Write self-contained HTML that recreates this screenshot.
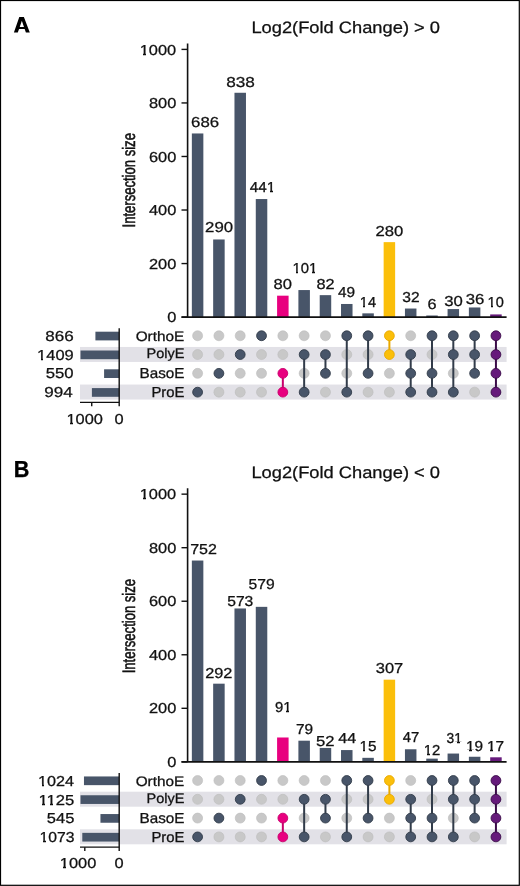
<!DOCTYPE html>
<html><head><meta charset="utf-8"><style>
html,body{margin:0;padding:0;background:#fff;}
body{width:520px;height:886px;overflow:hidden;}
svg{display:block;font-family:"Liberation Sans",sans-serif;will-change:transform;text-rendering:geometricPrecision;}
</style></head><body>
<svg width="520" height="886" viewBox="0 0 520 886">
<rect x="0" y="0" width="520" height="886" fill="#fff"/>
<rect x="80" y="346.95" width="426.6" height="15" fill="#e2e1e7"/>
<rect x="80" y="384.55" width="426.6" height="15" fill="#e2e1e7"/>
<path fill-rule="evenodd" fill="#000" d="M13.9,32.6 L19.3,16.9 L23.9,16.9 L29.8,32.6 L25.9,32.6 L24.66,29.1 L19.04,29.1 L17.8,32.6 Z M21.85,20.8 L19.72,26.9 L23.98,26.9 Z"/>
<text transform="translate(251.39,32.85) scale(1.1052,1)" font-size="16.552" fill="#111111" stroke="#111111" stroke-width="0.271">Log2(Fold Change) &gt; 0</text>
<line x1="187.6" y1="43.50" x2="187.6" y2="317.10" stroke="#111" stroke-width="1.6"/>
<line x1="181.5" y1="317.10" x2="187.6" y2="317.10" stroke="#111" stroke-width="1.4"/>
<text transform="translate(167.15,322.20) scale(1.1400,1)" font-size="14.400" fill="#111111" stroke="#111111" stroke-width="0.263">0</text>
<line x1="181.5" y1="263.56" x2="187.6" y2="263.56" stroke="#111" stroke-width="1.4"/>
<text transform="translate(148.92,268.66) scale(1.1400,1)" font-size="14.400" fill="#111111" stroke="#111111" stroke-width="0.263">200</text>
<line x1="181.5" y1="210.02" x2="187.6" y2="210.02" stroke="#111" stroke-width="1.4"/>
<text transform="translate(148.92,215.12) scale(1.1400,1)" font-size="14.400" fill="#111111" stroke="#111111" stroke-width="0.263">400</text>
<line x1="181.5" y1="156.48" x2="187.6" y2="156.48" stroke="#111" stroke-width="1.4"/>
<text transform="translate(148.92,161.58) scale(1.1400,1)" font-size="14.400" fill="#111111" stroke="#111111" stroke-width="0.263">600</text>
<line x1="181.5" y1="102.94" x2="187.6" y2="102.94" stroke="#111" stroke-width="1.4"/>
<text transform="translate(148.92,108.04) scale(1.1400,1)" font-size="14.400" fill="#111111" stroke="#111111" stroke-width="0.263">800</text>
<line x1="181.5" y1="49.40" x2="187.6" y2="49.40" stroke="#111" stroke-width="1.4"/>
<text transform="translate(139.73,54.50) scale(1.1400,1)" font-size="14.400" fill="#111111" stroke="#111111" stroke-width="0.263">1000</text><rect x="140" y="53" width="3" height="3" fill="#fff"/><rect x="146" y="53" width="3" height="3" fill="#fff"/>
<g transform="rotate(-90)"><text transform="translate(-227.48,134.70) scale(0.7256,1)" font-size="18.0" fill="#111111" stroke="#111111" stroke-width="0.55">Intersection size</text></g>
<rect x="191.85" y="133.46" width="11.5" height="183.64" fill="#485569"/>
<rect x="213.16" y="239.47" width="11.5" height="77.63" fill="#485569"/>
<rect x="234.47" y="92.77" width="11.5" height="224.33" fill="#485569"/>
<rect x="255.78" y="199.04" width="11.5" height="118.06" fill="#485569"/>
<rect x="277.09" y="295.68" width="11.5" height="21.42" fill="#e8007f"/>
<rect x="298.40" y="290.06" width="11.5" height="27.04" fill="#485569"/>
<rect x="319.71" y="295.15" width="11.5" height="21.95" fill="#485569"/>
<rect x="341.02" y="303.98" width="11.5" height="13.12" fill="#485569"/>
<rect x="362.33" y="313.35" width="11.5" height="3.75" fill="#485569"/>
<rect x="383.64" y="242.14" width="11.5" height="74.96" fill="#fbbf0a"/>
<rect x="404.95" y="308.53" width="11.5" height="8.57" fill="#485569"/>
<rect x="426.26" y="315.49" width="11.5" height="1.61" fill="#485569"/>
<rect x="447.57" y="309.07" width="11.5" height="8.03" fill="#485569"/>
<rect x="468.88" y="307.46" width="11.5" height="9.64" fill="#485569"/>
<rect x="490.19" y="314.42" width="11.5" height="2.68" fill="#661a7b"/>
<line x1="181.5" y1="317.10" x2="506.6" y2="317.10" stroke="#111" stroke-width="1.8"/>
<text transform="translate(191.11,126.75) scale(1.1677,1)" font-size="14.400" fill="#111111" stroke="#111111" stroke-width="0.257">686</text>
<text transform="translate(205.11,232.15) scale(1.1684,1)" font-size="14.400" fill="#111111" stroke="#111111" stroke-width="0.257">290</text>
<text transform="translate(226.18,86.65) scale(1.1955,1)" font-size="14.400" fill="#111111" stroke="#111111" stroke-width="0.251">838</text>
<text transform="translate(249.77,192.15) scale(1.0613,1)" font-size="14.400" fill="#111111" stroke="#111111" stroke-width="0.283">441</text><rect x="267" y="190" width="3" height="3" fill="#fff"/><rect x="273" y="190" width="2" height="3" fill="#fff"/>
<text transform="translate(273.60,289.45) scale(1.1518,1)" font-size="14.400" fill="#111111" stroke="#111111" stroke-width="0.260">80</text>
<text transform="translate(292.53,273.15) scale(1.0326,1)" font-size="14.400" fill="#111111" stroke="#111111" stroke-width="0.291">101</text><rect x="293" y="271" width="3" height="3" fill="#fff"/><rect x="298" y="271" width="3" height="3" fill="#fff"/><rect x="309" y="271" width="3" height="3" fill="#fff"/><rect x="315" y="271" width="3" height="3" fill="#fff"/>
<text transform="translate(316.51,288.55) scale(1.1357,1)" font-size="14.400" fill="#111111" stroke="#111111" stroke-width="0.264">82</text>
<text transform="translate(338.07,297.15) scale(1.0684,1)" font-size="14.400" fill="#111111" stroke="#111111" stroke-width="0.281">49</text>
<text transform="translate(359.86,306.85) scale(1.0088,1)" font-size="14.400" fill="#111111" stroke="#111111" stroke-width="0.297">14</text><rect x="360" y="305" width="3" height="3" fill="#fff"/><rect x="365" y="305" width="3" height="3" fill="#fff"/>
<text transform="translate(375.52,235.75) scale(1.1596,1)" font-size="14.400" fill="#111111" stroke="#111111" stroke-width="0.259">280</text>
<text transform="translate(402.23,302.45) scale(1.0825,1)" font-size="14.400" fill="#111111" stroke="#111111" stroke-width="0.277">32</text>
<text transform="translate(427.53,308.65) scale(1.1322,1)" font-size="14.400" fill="#111111" stroke="#111111" stroke-width="0.265">6</text>
<text transform="translate(444.18,306.15) scale(1.1597,1)" font-size="14.400" fill="#111111" stroke="#111111" stroke-width="0.259">30</text>
<text transform="translate(465.68,304.35) scale(1.1653,1)" font-size="14.400" fill="#111111" stroke="#111111" stroke-width="0.257">36</text>
<text transform="translate(487.56,307.05) scale(1.0120,1)" font-size="14.400" fill="#111111" stroke="#111111" stroke-width="0.296">10</text><rect x="488" y="305" width="3" height="3" fill="#fff"/><rect x="493" y="305" width="3" height="3" fill="#fff"/>
<circle cx="197.60" cy="335.75" r="5.0" fill="#c8c8c8" stroke="#bcbcbc" stroke-width="0.6"/>
<circle cx="197.60" cy="354.55" r="5.0" fill="#c8c8c8" stroke="#bcbcbc" stroke-width="0.6"/>
<circle cx="197.60" cy="373.35" r="5.0" fill="#c8c8c8" stroke="#bcbcbc" stroke-width="0.6"/>
<circle cx="197.60" cy="392.15" r="4.9" fill="#485569" stroke="#323c4a" stroke-width="0.9"/>
<circle cx="218.91" cy="335.75" r="5.0" fill="#c8c8c8" stroke="#bcbcbc" stroke-width="0.6"/>
<circle cx="218.91" cy="354.55" r="5.0" fill="#c8c8c8" stroke="#bcbcbc" stroke-width="0.6"/>
<circle cx="218.91" cy="392.15" r="5.0" fill="#c8c8c8" stroke="#bcbcbc" stroke-width="0.6"/>
<circle cx="218.91" cy="373.35" r="4.9" fill="#485569" stroke="#323c4a" stroke-width="0.9"/>
<circle cx="240.22" cy="335.75" r="5.0" fill="#c8c8c8" stroke="#bcbcbc" stroke-width="0.6"/>
<circle cx="240.22" cy="373.35" r="5.0" fill="#c8c8c8" stroke="#bcbcbc" stroke-width="0.6"/>
<circle cx="240.22" cy="392.15" r="5.0" fill="#c8c8c8" stroke="#bcbcbc" stroke-width="0.6"/>
<circle cx="240.22" cy="354.55" r="4.9" fill="#485569" stroke="#323c4a" stroke-width="0.9"/>
<circle cx="261.53" cy="354.55" r="5.0" fill="#c8c8c8" stroke="#bcbcbc" stroke-width="0.6"/>
<circle cx="261.53" cy="373.35" r="5.0" fill="#c8c8c8" stroke="#bcbcbc" stroke-width="0.6"/>
<circle cx="261.53" cy="392.15" r="5.0" fill="#c8c8c8" stroke="#bcbcbc" stroke-width="0.6"/>
<circle cx="261.53" cy="335.75" r="4.9" fill="#485569" stroke="#323c4a" stroke-width="0.9"/>
<circle cx="282.84" cy="335.75" r="5.0" fill="#c8c8c8" stroke="#bcbcbc" stroke-width="0.6"/>
<circle cx="282.84" cy="354.55" r="5.0" fill="#c8c8c8" stroke="#bcbcbc" stroke-width="0.6"/>
<line x1="282.84" y1="373.35" x2="282.84" y2="392.15" stroke="#c8006c" stroke-width="2.0"/>
<circle cx="282.84" cy="373.35" r="4.9" fill="#e8007f" stroke="#c8006c" stroke-width="0.9"/>
<circle cx="282.84" cy="392.15" r="4.9" fill="#e8007f" stroke="#c8006c" stroke-width="0.9"/>
<circle cx="304.15" cy="335.75" r="5.0" fill="#c8c8c8" stroke="#bcbcbc" stroke-width="0.6"/>
<circle cx="304.15" cy="373.35" r="5.0" fill="#c8c8c8" stroke="#bcbcbc" stroke-width="0.6"/>
<line x1="304.15" y1="354.55" x2="304.15" y2="392.15" stroke="#323c4a" stroke-width="2.0"/>
<circle cx="304.15" cy="354.55" r="4.9" fill="#485569" stroke="#323c4a" stroke-width="0.9"/>
<circle cx="304.15" cy="392.15" r="4.9" fill="#485569" stroke="#323c4a" stroke-width="0.9"/>
<circle cx="325.46" cy="335.75" r="5.0" fill="#c8c8c8" stroke="#bcbcbc" stroke-width="0.6"/>
<circle cx="325.46" cy="392.15" r="5.0" fill="#c8c8c8" stroke="#bcbcbc" stroke-width="0.6"/>
<line x1="325.46" y1="354.55" x2="325.46" y2="373.35" stroke="#323c4a" stroke-width="2.0"/>
<circle cx="325.46" cy="354.55" r="4.9" fill="#485569" stroke="#323c4a" stroke-width="0.9"/>
<circle cx="325.46" cy="373.35" r="4.9" fill="#485569" stroke="#323c4a" stroke-width="0.9"/>
<circle cx="346.77" cy="354.55" r="5.0" fill="#c8c8c8" stroke="#bcbcbc" stroke-width="0.6"/>
<circle cx="346.77" cy="373.35" r="5.0" fill="#c8c8c8" stroke="#bcbcbc" stroke-width="0.6"/>
<line x1="346.77" y1="335.75" x2="346.77" y2="392.15" stroke="#323c4a" stroke-width="2.0"/>
<circle cx="346.77" cy="335.75" r="4.9" fill="#485569" stroke="#323c4a" stroke-width="0.9"/>
<circle cx="346.77" cy="392.15" r="4.9" fill="#485569" stroke="#323c4a" stroke-width="0.9"/>
<circle cx="368.08" cy="354.55" r="5.0" fill="#c8c8c8" stroke="#bcbcbc" stroke-width="0.6"/>
<circle cx="368.08" cy="392.15" r="5.0" fill="#c8c8c8" stroke="#bcbcbc" stroke-width="0.6"/>
<line x1="368.08" y1="335.75" x2="368.08" y2="373.35" stroke="#323c4a" stroke-width="2.0"/>
<circle cx="368.08" cy="335.75" r="4.9" fill="#485569" stroke="#323c4a" stroke-width="0.9"/>
<circle cx="368.08" cy="373.35" r="4.9" fill="#485569" stroke="#323c4a" stroke-width="0.9"/>
<circle cx="389.39" cy="373.35" r="5.0" fill="#c8c8c8" stroke="#bcbcbc" stroke-width="0.6"/>
<circle cx="389.39" cy="392.15" r="5.0" fill="#c8c8c8" stroke="#bcbcbc" stroke-width="0.6"/>
<line x1="389.39" y1="335.75" x2="389.39" y2="354.55" stroke="#e8a800" stroke-width="2.0"/>
<circle cx="389.39" cy="335.75" r="4.9" fill="#fbbf0a" stroke="#e8a800" stroke-width="0.9"/>
<circle cx="389.39" cy="354.55" r="4.9" fill="#fbbf0a" stroke="#e8a800" stroke-width="0.9"/>
<circle cx="410.70" cy="335.75" r="5.0" fill="#c8c8c8" stroke="#bcbcbc" stroke-width="0.6"/>
<line x1="410.70" y1="354.55" x2="410.70" y2="392.15" stroke="#323c4a" stroke-width="2.0"/>
<circle cx="410.70" cy="354.55" r="4.9" fill="#485569" stroke="#323c4a" stroke-width="0.9"/>
<circle cx="410.70" cy="373.35" r="4.9" fill="#485569" stroke="#323c4a" stroke-width="0.9"/>
<circle cx="410.70" cy="392.15" r="4.9" fill="#485569" stroke="#323c4a" stroke-width="0.9"/>
<circle cx="432.01" cy="354.55" r="5.0" fill="#c8c8c8" stroke="#bcbcbc" stroke-width="0.6"/>
<line x1="432.01" y1="335.75" x2="432.01" y2="392.15" stroke="#323c4a" stroke-width="2.0"/>
<circle cx="432.01" cy="335.75" r="4.9" fill="#485569" stroke="#323c4a" stroke-width="0.9"/>
<circle cx="432.01" cy="373.35" r="4.9" fill="#485569" stroke="#323c4a" stroke-width="0.9"/>
<circle cx="432.01" cy="392.15" r="4.9" fill="#485569" stroke="#323c4a" stroke-width="0.9"/>
<circle cx="453.32" cy="373.35" r="5.0" fill="#c8c8c8" stroke="#bcbcbc" stroke-width="0.6"/>
<line x1="453.32" y1="335.75" x2="453.32" y2="392.15" stroke="#323c4a" stroke-width="2.0"/>
<circle cx="453.32" cy="335.75" r="4.9" fill="#485569" stroke="#323c4a" stroke-width="0.9"/>
<circle cx="453.32" cy="354.55" r="4.9" fill="#485569" stroke="#323c4a" stroke-width="0.9"/>
<circle cx="453.32" cy="392.15" r="4.9" fill="#485569" stroke="#323c4a" stroke-width="0.9"/>
<circle cx="474.63" cy="392.15" r="5.0" fill="#c8c8c8" stroke="#bcbcbc" stroke-width="0.6"/>
<line x1="474.63" y1="335.75" x2="474.63" y2="373.35" stroke="#323c4a" stroke-width="2.0"/>
<circle cx="474.63" cy="335.75" r="4.9" fill="#485569" stroke="#323c4a" stroke-width="0.9"/>
<circle cx="474.63" cy="354.55" r="4.9" fill="#485569" stroke="#323c4a" stroke-width="0.9"/>
<circle cx="474.63" cy="373.35" r="4.9" fill="#485569" stroke="#323c4a" stroke-width="0.9"/>
<line x1="495.94" y1="335.75" x2="495.94" y2="392.15" stroke="#3a0c48" stroke-width="2.0"/>
<circle cx="495.94" cy="335.75" r="4.9" fill="#661a7b" stroke="#3a0c48" stroke-width="0.9"/>
<circle cx="495.94" cy="354.55" r="4.9" fill="#661a7b" stroke="#3a0c48" stroke-width="0.9"/>
<circle cx="495.94" cy="373.35" r="4.9" fill="#661a7b" stroke="#3a0c48" stroke-width="0.9"/>
<circle cx="495.94" cy="392.15" r="4.9" fill="#661a7b" stroke="#3a0c48" stroke-width="0.9"/>
<text transform="translate(135.66,341.45) scale(1.1134,1)" font-size="13.793" fill="#111111" stroke="#111111" stroke-width="0.269">OrthoE</text>
<text transform="translate(146.49,358.25) scale(1.0540,1)" font-size="13.793" fill="#111111" stroke="#111111" stroke-width="0.285">PolyE</text>
<text transform="translate(139.53,378.35) scale(1.0527,1)" font-size="14.493" fill="#111111" stroke="#111111" stroke-width="0.285">BasoE</text>
<text transform="translate(151.46,397.25) scale(1.0251,1)" font-size="14.493" fill="#111111" stroke="#111111" stroke-width="0.293">ProE</text>
<rect x="95.41" y="331.70" width="23.79" height="8.7" fill="#485569"/>
<rect x="80.50" y="350.50" width="38.70" height="8.7" fill="#485569"/>
<rect x="104.09" y="369.30" width="15.11" height="8.7" fill="#485569"/>
<rect x="91.90" y="388.10" width="27.30" height="8.7" fill="#485569"/>
<line x1="119.2" y1="328.20" x2="119.2" y2="406.20" stroke="#111" stroke-width="1.4"/>
<line x1="80" y1="402.40" x2="119.2" y2="402.40" stroke="#111" stroke-width="1.4"/>
<line x1="91.73" y1="402.40" x2="91.73" y2="406.20" stroke="#111" stroke-width="1.4"/>
<text transform="translate(45.28,341.45) scale(1.1861,1)" font-size="14.400" fill="#111111" stroke="#111111" stroke-width="0.253">866</text>
<text transform="translate(37.12,359.95) scale(1.1415,1)" font-size="14.400" fill="#111111" stroke="#111111" stroke-width="0.263">1409</text><rect x="37" y="358" width="4" height="3" fill="#fff"/><rect x="43" y="358" width="3" height="3" fill="#fff"/>
<text transform="translate(45.78,378.25) scale(1.1611,1)" font-size="14.400" fill="#111111" stroke="#111111" stroke-width="0.258">550</text>
<text transform="translate(44.28,397.05) scale(1.1836,1)" font-size="14.400" fill="#111111" stroke="#111111" stroke-width="0.253">994</text>
<text transform="translate(66.47,423.50) scale(1.1400,1)" font-size="14.400" fill="#111111" stroke="#111111" stroke-width="0.263">1000</text><rect x="67" y="422" width="3" height="3" fill="#fff"/><rect x="73" y="422" width="3" height="3" fill="#fff"/>
<text transform="translate(114.54,423.50) scale(1.1400,1)" font-size="14.400" fill="#111111" stroke="#111111" stroke-width="0.263">0</text>
<rect x="80" y="791.70" width="426.6" height="15" fill="#e2e1e7"/>
<rect x="80" y="829.30" width="426.6" height="15" fill="#e2e1e7"/>
<text transform="translate(13.74,477.35) scale(0.9332,1)" font-size="23.188" font-weight="bold" fill="#000" stroke="#000" stroke-width="0.321">B</text>
<text transform="translate(251.39,477.60) scale(1.1052,1)" font-size="16.552" fill="#111111" stroke="#111111" stroke-width="0.271">Log2(Fold Change) &lt; 0</text>
<line x1="187.6" y1="488.25" x2="187.6" y2="761.85" stroke="#111" stroke-width="1.6"/>
<line x1="181.5" y1="761.85" x2="187.6" y2="761.85" stroke="#111" stroke-width="1.4"/>
<text transform="translate(167.15,766.95) scale(1.1400,1)" font-size="14.400" fill="#111111" stroke="#111111" stroke-width="0.263">0</text>
<line x1="181.5" y1="708.31" x2="187.6" y2="708.31" stroke="#111" stroke-width="1.4"/>
<text transform="translate(148.92,713.41) scale(1.1400,1)" font-size="14.400" fill="#111111" stroke="#111111" stroke-width="0.263">200</text>
<line x1="181.5" y1="654.77" x2="187.6" y2="654.77" stroke="#111" stroke-width="1.4"/>
<text transform="translate(148.92,659.87) scale(1.1400,1)" font-size="14.400" fill="#111111" stroke="#111111" stroke-width="0.263">400</text>
<line x1="181.5" y1="601.23" x2="187.6" y2="601.23" stroke="#111" stroke-width="1.4"/>
<text transform="translate(148.92,606.33) scale(1.1400,1)" font-size="14.400" fill="#111111" stroke="#111111" stroke-width="0.263">600</text>
<line x1="181.5" y1="547.69" x2="187.6" y2="547.69" stroke="#111" stroke-width="1.4"/>
<text transform="translate(148.92,552.79) scale(1.1400,1)" font-size="14.400" fill="#111111" stroke="#111111" stroke-width="0.263">800</text>
<line x1="181.5" y1="494.15" x2="187.6" y2="494.15" stroke="#111" stroke-width="1.4"/>
<text transform="translate(139.73,499.25) scale(1.1400,1)" font-size="14.400" fill="#111111" stroke="#111111" stroke-width="0.263">1000</text><rect x="140" y="497" width="3" height="3" fill="#fff"/><rect x="146" y="497" width="3" height="3" fill="#fff"/>
<g transform="rotate(-90)"><text transform="translate(-673.33,134.70) scale(0.7256,1)" font-size="18.0" fill="#111111" stroke="#111111" stroke-width="0.55">Intersection size</text></g>
<rect x="191.85" y="560.54" width="11.5" height="201.31" fill="#485569"/>
<rect x="213.16" y="683.68" width="11.5" height="78.17" fill="#485569"/>
<rect x="234.47" y="608.46" width="11.5" height="153.39" fill="#485569"/>
<rect x="255.78" y="606.85" width="11.5" height="155.00" fill="#485569"/>
<rect x="277.09" y="737.49" width="11.5" height="24.36" fill="#e8007f"/>
<rect x="298.40" y="740.70" width="11.5" height="21.15" fill="#485569"/>
<rect x="319.71" y="747.93" width="11.5" height="13.92" fill="#485569"/>
<rect x="341.02" y="750.07" width="11.5" height="11.78" fill="#485569"/>
<rect x="362.33" y="757.83" width="11.5" height="4.02" fill="#485569"/>
<rect x="383.64" y="679.67" width="11.5" height="82.18" fill="#fbbf0a"/>
<rect x="404.95" y="749.27" width="11.5" height="12.58" fill="#485569"/>
<rect x="426.26" y="758.64" width="11.5" height="3.21" fill="#485569"/>
<rect x="447.57" y="753.55" width="11.5" height="8.30" fill="#485569"/>
<rect x="468.88" y="756.76" width="11.5" height="5.09" fill="#485569"/>
<rect x="490.19" y="757.30" width="11.5" height="4.55" fill="#661a7b"/>
<line x1="181.5" y1="761.85" x2="506.6" y2="761.85" stroke="#111" stroke-width="1.8"/>
<text transform="translate(190.15,554.45) scale(1.1138,1)" font-size="14.400" fill="#111111" stroke="#111111" stroke-width="0.269">752</text>
<text transform="translate(205.13,677.75) scale(1.1360,1)" font-size="14.400" fill="#111111" stroke="#111111" stroke-width="0.264">292</text>
<text transform="translate(227.22,605.85) scale(1.0856,1)" font-size="14.400" fill="#111111" stroke="#111111" stroke-width="0.276">573</text>
<text transform="translate(248.52,588.55) scale(1.0856,1)" font-size="14.400" fill="#111111" stroke="#111111" stroke-width="0.276">579</text>
<text transform="translate(274.88,711.75) scale(1.0331,1)" font-size="14.400" fill="#111111" stroke="#111111" stroke-width="0.290">91</text><rect x="283" y="710" width="3" height="3" fill="#fff"/><rect x="289" y="710" width="3" height="3" fill="#fff"/>
<text transform="translate(295.88,734.45) scale(1.0673,1)" font-size="14.400" fill="#111111" stroke="#111111" stroke-width="0.281">79</text>
<text transform="translate(315.98,745.55) scale(1.1574,1)" font-size="14.400" fill="#111111" stroke="#111111" stroke-width="0.259">52</text>
<text transform="translate(338.25,742.55) scale(1.1190,1)" font-size="14.400" fill="#111111" stroke="#111111" stroke-width="0.268">44</text>
<text transform="translate(359.40,751.05) scale(1.0609,1)" font-size="14.400" fill="#111111" stroke="#111111" stroke-width="0.283">15</text><rect x="360" y="749" width="3" height="3" fill="#fff"/><rect x="365" y="749" width="3" height="3" fill="#fff"/>
<text transform="translate(375.74,672.75) scale(1.1442,1)" font-size="14.400" fill="#111111" stroke="#111111" stroke-width="0.262">307</text>
<text transform="translate(402.68,742.25) scale(1.0266,1)" font-size="14.400" fill="#111111" stroke="#111111" stroke-width="0.292">47</text>
<text transform="translate(423.83,754.95) scale(1.0364,1)" font-size="14.400" fill="#111111" stroke="#111111" stroke-width="0.289">12</text><rect x="424" y="753" width="3" height="3" fill="#fff"/><rect x="430" y="753" width="2" height="3" fill="#fff"/>
<text transform="translate(446.60,743.45) scale(0.9600,1)" font-size="14.400" fill="#111111" stroke="#111111" stroke-width="0.313">31</text><rect x="454" y="742" width="3" height="3" fill="#fff"/><rect x="460" y="742" width="2" height="3" fill="#fff"/>
<text transform="translate(465.90,751.35) scale(1.0662,1)" font-size="14.400" fill="#111111" stroke="#111111" stroke-width="0.281">19</text><rect x="466" y="750" width="3" height="2" fill="#fff"/><rect x="472" y="750" width="3" height="2" fill="#fff"/>
<text transform="translate(486.89,750.95) scale(1.0716,1)" font-size="14.400" fill="#111111" stroke="#111111" stroke-width="0.280">17</text><rect x="487" y="749" width="3" height="3" fill="#fff"/><rect x="493" y="749" width="3" height="3" fill="#fff"/>
<circle cx="197.60" cy="780.50" r="5.0" fill="#c8c8c8" stroke="#bcbcbc" stroke-width="0.6"/>
<circle cx="197.60" cy="799.30" r="5.0" fill="#c8c8c8" stroke="#bcbcbc" stroke-width="0.6"/>
<circle cx="197.60" cy="818.10" r="5.0" fill="#c8c8c8" stroke="#bcbcbc" stroke-width="0.6"/>
<circle cx="197.60" cy="836.90" r="4.9" fill="#485569" stroke="#323c4a" stroke-width="0.9"/>
<circle cx="218.91" cy="780.50" r="5.0" fill="#c8c8c8" stroke="#bcbcbc" stroke-width="0.6"/>
<circle cx="218.91" cy="799.30" r="5.0" fill="#c8c8c8" stroke="#bcbcbc" stroke-width="0.6"/>
<circle cx="218.91" cy="836.90" r="5.0" fill="#c8c8c8" stroke="#bcbcbc" stroke-width="0.6"/>
<circle cx="218.91" cy="818.10" r="4.9" fill="#485569" stroke="#323c4a" stroke-width="0.9"/>
<circle cx="240.22" cy="780.50" r="5.0" fill="#c8c8c8" stroke="#bcbcbc" stroke-width="0.6"/>
<circle cx="240.22" cy="818.10" r="5.0" fill="#c8c8c8" stroke="#bcbcbc" stroke-width="0.6"/>
<circle cx="240.22" cy="836.90" r="5.0" fill="#c8c8c8" stroke="#bcbcbc" stroke-width="0.6"/>
<circle cx="240.22" cy="799.30" r="4.9" fill="#485569" stroke="#323c4a" stroke-width="0.9"/>
<circle cx="261.53" cy="799.30" r="5.0" fill="#c8c8c8" stroke="#bcbcbc" stroke-width="0.6"/>
<circle cx="261.53" cy="818.10" r="5.0" fill="#c8c8c8" stroke="#bcbcbc" stroke-width="0.6"/>
<circle cx="261.53" cy="836.90" r="5.0" fill="#c8c8c8" stroke="#bcbcbc" stroke-width="0.6"/>
<circle cx="261.53" cy="780.50" r="4.9" fill="#485569" stroke="#323c4a" stroke-width="0.9"/>
<circle cx="282.84" cy="780.50" r="5.0" fill="#c8c8c8" stroke="#bcbcbc" stroke-width="0.6"/>
<circle cx="282.84" cy="799.30" r="5.0" fill="#c8c8c8" stroke="#bcbcbc" stroke-width="0.6"/>
<line x1="282.84" y1="818.10" x2="282.84" y2="836.90" stroke="#c8006c" stroke-width="2.0"/>
<circle cx="282.84" cy="818.10" r="4.9" fill="#e8007f" stroke="#c8006c" stroke-width="0.9"/>
<circle cx="282.84" cy="836.90" r="4.9" fill="#e8007f" stroke="#c8006c" stroke-width="0.9"/>
<circle cx="304.15" cy="780.50" r="5.0" fill="#c8c8c8" stroke="#bcbcbc" stroke-width="0.6"/>
<circle cx="304.15" cy="818.10" r="5.0" fill="#c8c8c8" stroke="#bcbcbc" stroke-width="0.6"/>
<line x1="304.15" y1="799.30" x2="304.15" y2="836.90" stroke="#323c4a" stroke-width="2.0"/>
<circle cx="304.15" cy="799.30" r="4.9" fill="#485569" stroke="#323c4a" stroke-width="0.9"/>
<circle cx="304.15" cy="836.90" r="4.9" fill="#485569" stroke="#323c4a" stroke-width="0.9"/>
<circle cx="325.46" cy="780.50" r="5.0" fill="#c8c8c8" stroke="#bcbcbc" stroke-width="0.6"/>
<circle cx="325.46" cy="836.90" r="5.0" fill="#c8c8c8" stroke="#bcbcbc" stroke-width="0.6"/>
<line x1="325.46" y1="799.30" x2="325.46" y2="818.10" stroke="#323c4a" stroke-width="2.0"/>
<circle cx="325.46" cy="799.30" r="4.9" fill="#485569" stroke="#323c4a" stroke-width="0.9"/>
<circle cx="325.46" cy="818.10" r="4.9" fill="#485569" stroke="#323c4a" stroke-width="0.9"/>
<circle cx="346.77" cy="799.30" r="5.0" fill="#c8c8c8" stroke="#bcbcbc" stroke-width="0.6"/>
<circle cx="346.77" cy="818.10" r="5.0" fill="#c8c8c8" stroke="#bcbcbc" stroke-width="0.6"/>
<line x1="346.77" y1="780.50" x2="346.77" y2="836.90" stroke="#323c4a" stroke-width="2.0"/>
<circle cx="346.77" cy="780.50" r="4.9" fill="#485569" stroke="#323c4a" stroke-width="0.9"/>
<circle cx="346.77" cy="836.90" r="4.9" fill="#485569" stroke="#323c4a" stroke-width="0.9"/>
<circle cx="368.08" cy="799.30" r="5.0" fill="#c8c8c8" stroke="#bcbcbc" stroke-width="0.6"/>
<circle cx="368.08" cy="836.90" r="5.0" fill="#c8c8c8" stroke="#bcbcbc" stroke-width="0.6"/>
<line x1="368.08" y1="780.50" x2="368.08" y2="818.10" stroke="#323c4a" stroke-width="2.0"/>
<circle cx="368.08" cy="780.50" r="4.9" fill="#485569" stroke="#323c4a" stroke-width="0.9"/>
<circle cx="368.08" cy="818.10" r="4.9" fill="#485569" stroke="#323c4a" stroke-width="0.9"/>
<circle cx="389.39" cy="818.10" r="5.0" fill="#c8c8c8" stroke="#bcbcbc" stroke-width="0.6"/>
<circle cx="389.39" cy="836.90" r="5.0" fill="#c8c8c8" stroke="#bcbcbc" stroke-width="0.6"/>
<line x1="389.39" y1="780.50" x2="389.39" y2="799.30" stroke="#e8a800" stroke-width="2.0"/>
<circle cx="389.39" cy="780.50" r="4.9" fill="#fbbf0a" stroke="#e8a800" stroke-width="0.9"/>
<circle cx="389.39" cy="799.30" r="4.9" fill="#fbbf0a" stroke="#e8a800" stroke-width="0.9"/>
<circle cx="410.70" cy="780.50" r="5.0" fill="#c8c8c8" stroke="#bcbcbc" stroke-width="0.6"/>
<line x1="410.70" y1="799.30" x2="410.70" y2="836.90" stroke="#323c4a" stroke-width="2.0"/>
<circle cx="410.70" cy="799.30" r="4.9" fill="#485569" stroke="#323c4a" stroke-width="0.9"/>
<circle cx="410.70" cy="818.10" r="4.9" fill="#485569" stroke="#323c4a" stroke-width="0.9"/>
<circle cx="410.70" cy="836.90" r="4.9" fill="#485569" stroke="#323c4a" stroke-width="0.9"/>
<circle cx="432.01" cy="799.30" r="5.0" fill="#c8c8c8" stroke="#bcbcbc" stroke-width="0.6"/>
<line x1="432.01" y1="780.50" x2="432.01" y2="836.90" stroke="#323c4a" stroke-width="2.0"/>
<circle cx="432.01" cy="780.50" r="4.9" fill="#485569" stroke="#323c4a" stroke-width="0.9"/>
<circle cx="432.01" cy="818.10" r="4.9" fill="#485569" stroke="#323c4a" stroke-width="0.9"/>
<circle cx="432.01" cy="836.90" r="4.9" fill="#485569" stroke="#323c4a" stroke-width="0.9"/>
<circle cx="453.32" cy="818.10" r="5.0" fill="#c8c8c8" stroke="#bcbcbc" stroke-width="0.6"/>
<line x1="453.32" y1="780.50" x2="453.32" y2="836.90" stroke="#323c4a" stroke-width="2.0"/>
<circle cx="453.32" cy="780.50" r="4.9" fill="#485569" stroke="#323c4a" stroke-width="0.9"/>
<circle cx="453.32" cy="799.30" r="4.9" fill="#485569" stroke="#323c4a" stroke-width="0.9"/>
<circle cx="453.32" cy="836.90" r="4.9" fill="#485569" stroke="#323c4a" stroke-width="0.9"/>
<circle cx="474.63" cy="836.90" r="5.0" fill="#c8c8c8" stroke="#bcbcbc" stroke-width="0.6"/>
<line x1="474.63" y1="780.50" x2="474.63" y2="818.10" stroke="#323c4a" stroke-width="2.0"/>
<circle cx="474.63" cy="780.50" r="4.9" fill="#485569" stroke="#323c4a" stroke-width="0.9"/>
<circle cx="474.63" cy="799.30" r="4.9" fill="#485569" stroke="#323c4a" stroke-width="0.9"/>
<circle cx="474.63" cy="818.10" r="4.9" fill="#485569" stroke="#323c4a" stroke-width="0.9"/>
<line x1="495.94" y1="780.50" x2="495.94" y2="836.90" stroke="#3a0c48" stroke-width="2.0"/>
<circle cx="495.94" cy="780.50" r="4.9" fill="#661a7b" stroke="#3a0c48" stroke-width="0.9"/>
<circle cx="495.94" cy="799.30" r="4.9" fill="#661a7b" stroke="#3a0c48" stroke-width="0.9"/>
<circle cx="495.94" cy="818.10" r="4.9" fill="#661a7b" stroke="#3a0c48" stroke-width="0.9"/>
<circle cx="495.94" cy="836.90" r="4.9" fill="#661a7b" stroke="#3a0c48" stroke-width="0.9"/>
<text transform="translate(135.66,786.20) scale(1.1134,1)" font-size="13.793" fill="#111111" stroke="#111111" stroke-width="0.269">OrthoE</text>
<text transform="translate(146.49,803.00) scale(1.0540,1)" font-size="13.793" fill="#111111" stroke="#111111" stroke-width="0.285">PolyE</text>
<text transform="translate(139.53,823.10) scale(1.0527,1)" font-size="14.493" fill="#111111" stroke="#111111" stroke-width="0.285">BasoE</text>
<text transform="translate(151.46,842.00) scale(1.0251,1)" font-size="14.493" fill="#111111" stroke="#111111" stroke-width="0.293">ProE</text>
<rect x="83.97" y="776.45" width="35.23" height="8.7" fill="#485569"/>
<rect x="80.50" y="795.25" width="38.70" height="8.7" fill="#485569"/>
<rect x="100.45" y="814.05" width="18.75" height="8.7" fill="#485569"/>
<rect x="82.29" y="832.85" width="36.91" height="8.7" fill="#485569"/>
<line x1="119.2" y1="772.95" x2="119.2" y2="850.95" stroke="#111" stroke-width="1.4"/>
<line x1="80" y1="847.15" x2="119.2" y2="847.15" stroke="#111" stroke-width="1.4"/>
<line x1="84.80" y1="847.15" x2="84.80" y2="850.95" stroke="#111" stroke-width="1.4"/>
<text transform="translate(38.03,786.15) scale(1.1252,1)" font-size="14.400" fill="#111111" stroke="#111111" stroke-width="0.267">1024</text><rect x="38" y="784" width="4" height="3" fill="#fff"/><rect x="44" y="784" width="3" height="3" fill="#fff"/>
<text transform="translate(38.50,804.65) scale(1.1551,1)" font-size="14.400" fill="#111111" stroke="#111111" stroke-width="0.260">1125</text><rect x="39" y="803" width="3" height="3" fill="#fff"/><rect x="45" y="803" width="3" height="3" fill="#fff"/><rect x="47" y="803" width="3" height="3" fill="#fff"/><rect x="53" y="803" width="3" height="3" fill="#fff"/>
<text transform="translate(46.79,823.25) scale(1.1457,1)" font-size="14.400" fill="#111111" stroke="#111111" stroke-width="0.262">545</text>
<text transform="translate(39.57,841.75) scale(1.0920,1)" font-size="14.400" fill="#111111" stroke="#111111" stroke-width="0.275">1073</text><rect x="40" y="840" width="3" height="3" fill="#fff"/><rect x="46" y="840" width="2" height="3" fill="#fff"/>
<text transform="translate(59.77,868.25) scale(1.1400,1)" font-size="14.400" fill="#111111" stroke="#111111" stroke-width="0.263">1000</text><rect x="60" y="866" width="3" height="3" fill="#fff"/><rect x="66" y="866" width="3" height="3" fill="#fff"/>
<text transform="translate(114.54,868.25) scale(1.1400,1)" font-size="14.400" fill="#111111" stroke="#111111" stroke-width="0.263">0</text>
<rect x="0.5" y="0.5" width="518.8" height="884.8" fill="none" stroke="#000" stroke-width="1.2"/>
</svg>
</body></html>
